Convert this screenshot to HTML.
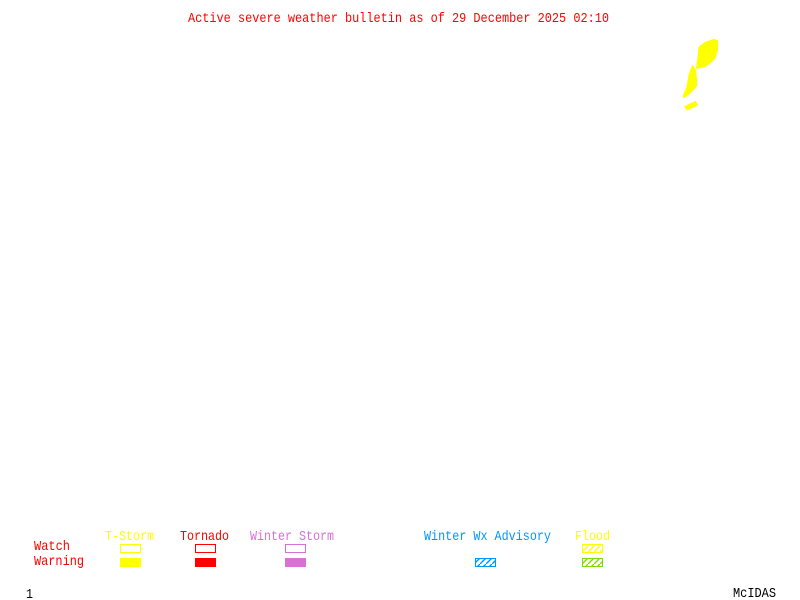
<!DOCTYPE html>
<html><head><meta charset="utf-8"><style>html,body{margin:0;padding:0;background:#fff}svg{display:block}text{font-family:"Liberation Mono",monospace;font-size:14px}</style></head>
<body>
<svg width="800" height="600" viewBox="0 0 800 600" xmlns="http://www.w3.org/2000/svg">
<defs>
<pattern id="hb" width="6" height="6" patternUnits="userSpaceOnUse"><path d="M-1 7L7 -1" stroke="#0096ff" stroke-width="1.4" fill="none"/></pattern>
<pattern id="hy" width="6" height="6" patternUnits="userSpaceOnUse"><path d="M-1 7L7 -1" stroke="#ffff00" stroke-width="1.4" fill="none"/></pattern>
<pattern id="hg" width="6" height="6" patternUnits="userSpaceOnUse"><path d="M-1 7L7 -1" stroke="#7fdc00" stroke-width="1.4" fill="none"/></pattern>
</defs>
<rect width="800" height="600" fill="#fff"/>
<text x="188" y="22" fill="#f00" textLength="421" lengthAdjust="spacingAndGlyphs">Active severe weather bulletin as of 29 December 2025 02:10</text>
<g fill="#ff0" stroke="#ff0" stroke-width="1" stroke-linejoin="round" shape-rendering="crispEdges">
<polygon points="714,39.5 717.5,40.5 717.5,50 715,58 710,63 705,66.5 697,68.5 696.5,67 698,58 699,47 705,42.5"/>
<polygon points="692.5,65.5 695.5,70 696.5,79 696.5,86 693,90 688,95 683.5,97.5 683.5,95 687,87 689,75 691.5,68"/>
<polygon points="695.5,101.5 697.5,105 687,110 685,106.5"/>
</g>
<text x="105" y="540" fill="#ff0" textLength="49" lengthAdjust="spacingAndGlyphs">T-Storm</text>
<text x="180" y="540" fill="#f00" textLength="49" lengthAdjust="spacingAndGlyphs">Tornado</text>
<text x="250" y="540" fill="#da70d6" textLength="84" lengthAdjust="spacingAndGlyphs">Winter Storm</text>
<text x="424" y="540" fill="#0096ff" textLength="127" lengthAdjust="spacingAndGlyphs">Winter Wx Advisory</text>
<text x="575" y="540" fill="#ff0" textLength="35" lengthAdjust="spacingAndGlyphs">Flood</text>
<text x="34" y="550" fill="#f00" textLength="36" lengthAdjust="spacingAndGlyphs">Watch</text>
<text x="34" y="565" fill="#f00" textLength="50" lengthAdjust="spacingAndGlyphs">Warning</text>
<g shape-rendering="crispEdges" fill="none">
<rect x="120.5" y="544.5" width="20" height="8" stroke="#ff0"/>
<rect x="195.5" y="544.5" width="20" height="8" stroke="#f00"/>
<rect x="285.5" y="544.5" width="20" height="8" stroke="#da70d6"/>
<rect x="582.5" y="544.5" width="20" height="8" stroke="#ff0" fill="url(#hy)"/>
<rect x="120" y="558" width="21" height="9" fill="#ff0"/>
<rect x="195" y="558" width="21" height="9" fill="#f00"/>
<rect x="285" y="558" width="21" height="9" fill="#da70d6"/>
<rect x="475.5" y="558.5" width="20" height="8" stroke="#0096ff" fill="url(#hb)"/>
<rect x="582.5" y="558.5" width="20" height="8" stroke="#7fdc00" fill="url(#hg)"/>
</g>
<text x="26" y="598" fill="#000" textLength="7" lengthAdjust="spacingAndGlyphs">1</text>
<text x="733" y="597" fill="#000" textLength="43" lengthAdjust="spacingAndGlyphs">McIDAS</text>
</svg>
</body></html>
